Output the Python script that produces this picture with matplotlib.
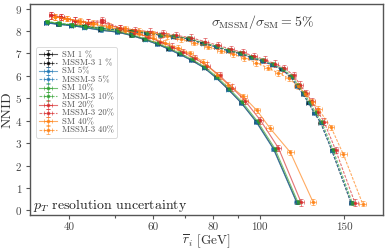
import matplotlib
matplotlib.use("Agg")
import matplotlib.pyplot as plt
import numpy as np
from matplotlib.ticker import FixedLocator, FixedFormatter, NullFormatter

plt.rcParams.update({
    "font.family": "serif",
    "font.serif": ["cmr10", "DejaVu Serif"],
    "mathtext.fontset": "cm",
    "axes.unicode_minus": False,
    "axes.formatter.use_mathtext": True,
})

# ---------------- data ----------------
labels = ["SM 1 %", "MSSM-3 1 %", "SM 5%", "MSSM-3 5%", "SM 10%", "MSSM-3 10%",
          "SM 20%", "MSSM-3 20%", "SM 40%", "MSSM-3 40%"]

x_sm1 = [35.8, 38.0, 40.5, 43.0, 46.5, 50.5, 54.0, 57.5, 61.0, 64.5, 68.0, 72.0, 76.5, 81.0, 86.0, 91.5, 98.5, 107.0, 119.5]
y_sm1 = [8.37, 8.30, 8.24, 8.16, 8.04, 7.95, 7.80, 7.62, 7.42, 7.20, 6.97, 6.70, 6.37, 5.93, 5.40, 4.80, 3.95, 2.74, 0.37]

x_sm5 = [35.8, 38.1, 40.5, 43.1, 46.6, 50.5, 54.1, 57.6, 61.1, 64.6, 68.1, 72.1, 76.6, 81.1, 86.1, 91.6, 98.4, 106.9, 119.4]
y_sm5 = [8.36, 8.29, 8.24, 8.15, 8.03, 7.95, 7.80, 7.61, 7.42, 7.19, 6.96, 6.69, 6.36, 5.92, 5.39, 4.79, 3.94, 2.73, 0.37]

x_sm10 = [36.0, 38.2, 40.7, 43.2, 46.7, 50.7, 54.2, 57.7, 61.3, 64.8, 68.3, 72.3, 76.8, 81.4, 86.4, 92.0, 99.0, 107.6, 120.2]
y_sm10 = [8.42, 8.33, 8.27, 8.19, 8.08, 7.99, 7.83, 7.65, 7.45, 7.23, 7.00, 6.73, 6.40, 5.96, 5.43, 4.83, 3.97, 2.76, 0.37]

x_sm20 = [36.8, 38.6, 41.2, 43.9, 47.0, 51.2, 54.8, 58.4, 62.0, 65.6, 69.2, 73.2, 77.8, 82.5, 87.6, 93.3, 100.4, 109.5, 122.0]
y_sm20 = [8.70, 8.62, 8.46, 8.37, 8.40, 8.10, 7.92, 7.74, 7.52, 7.30, 7.06, 6.78, 6.45, 6.02, 5.48, 4.88, 4.02, 2.78, 0.37]

x_sm40 = [37.5, 39.6, 42.2, 45.0, 48.5, 52.3, 56.0, 59.8, 63.6, 67.5, 71.5, 76.3, 81.7, 86.1, 92.5, 98.7, 105.0, 115.9, 129.3]
y_sm40 = [8.62, 8.55, 8.42, 8.30, 8.16, 8.02, 7.87, 7.68, 7.47, 7.25, 7.00, 6.62, 6.04, 5.60, 5.08, 4.46, 3.68, 2.59, 0.37]

x_m1 = [35.8, 38.0, 40.5, 43.0, 46.5, 50.5, 54.0, 58.0, 62.0, 66.0, 71.0, 76.0, 81.0, 86.0, 91.0, 96.0, 101.0, 106.0, 111.0, 116.0, 119.6, 123.0, 126.4, 130.0, 134.0, 141.4, 155.0]
y_m1 = [8.37, 8.32, 8.26, 8.20, 8.12, 8.05, 7.98, 7.90, 7.82, 7.75, 7.65, 7.45, 7.30, 7.12, 7.00, 6.82, 6.67, 6.50, 6.30, 5.97, 5.56, 5.20, 4.81, 4.35, 3.92, 2.68, 0.35]

x_m5 = [35.8, 38.0, 40.5, 43.1, 46.6, 50.5, 54.1, 58.1, 62.1, 66.1, 71.1, 76.1, 81.1, 86.1, 91.1, 96.1, 101.1, 106.1, 111.1, 116.1, 119.7, 123.1, 126.5, 130.1, 134.1, 141.5, 155.2]
y_m5 = [8.36, 8.31, 8.25, 8.19, 8.11, 8.04, 7.97, 7.89, 7.82, 7.74, 7.64, 7.44, 7.29, 7.11, 6.99, 6.81, 6.66, 6.49, 6.29, 5.96, 5.55, 5.19, 4.80, 4.34, 3.91, 2.67, 0.35]

x_m10 = [36.0, 38.2, 40.7, 43.2, 46.7, 50.7, 54.3, 58.3, 62.4, 66.4, 71.4, 76.4, 81.5, 86.5, 91.6, 96.6, 101.6, 106.7, 111.7, 116.8, 120.4, 123.8, 127.2, 130.8, 134.8, 142.3, 156.0]
y_m10 = [8.42, 8.34, 8.28, 8.22, 8.14, 8.07, 8.00, 7.92, 7.84, 7.77, 7.67, 7.47, 7.32, 7.14, 7.02, 6.84, 6.69, 6.52, 6.32, 5.99, 5.58, 5.22, 4.83, 4.37, 3.94, 2.70, 0.35]

x_m20 = [36.8, 38.6, 41.2, 43.9, 47.0, 51.2, 55.0, 59.0, 63.0, 67.0, 72.0, 77.0, 82.0, 87.2, 92.3, 97.4, 102.5, 107.6, 112.7, 117.8, 121.5, 125.0, 128.5, 132.2, 136.3, 144.0, 158.0]
y_m20 = [8.70, 8.62, 8.46, 8.37, 8.49, 8.12, 8.04, 7.97, 7.89, 7.80, 7.70, 7.52, 7.36, 7.18, 7.04, 6.88, 6.72, 6.54, 6.34, 6.02, 5.60, 5.24, 4.86, 4.40, 3.95, 2.70, 0.35]

x_m40 = [37.5, 39.6, 42.2, 45.0, 48.5, 52.3, 56.0, 60.0, 64.0, 68.5, 73.0, 78.0, 83.0, 88.0, 93.0, 98.5, 104.0, 109.5, 115.0, 120.0, 124.4, 128.5, 132.5, 141.0, 149.5, 164.0]
y_m40 = [8.62, 8.55, 8.45, 8.35, 8.22, 8.12, 8.02, 7.90, 7.78, 7.62, 7.48, 7.30, 7.12, 6.96, 6.80, 6.58, 6.36, 6.12, 5.90, 5.55, 5.20, 4.85, 4.53, 3.70, 2.50, 0.30]

yerr_vals = [0.06, 0.06, 0.07, 0.07, 0.09, 0.09, 0.15, 0.15, 0.12, 0.12]
xerr_rel = [0.010, 0.010, 0.010, 0.010, 0.011, 0.011, 0.013, 0.013, 0.016, 0.016]

xticks_major = [40, 60, 80, 100, 150]
xticks_minor = [50, 70, 90]
yticks = [0, 1, 2, 3, 4, 5, 6, 7, 8, 9]

series_x = [x_sm1, x_m1, x_sm5, x_m5, x_sm10, x_m10, x_sm20, x_m20, x_sm40, x_m40]
series_y = [y_sm1, y_m1, y_sm5, y_m5, y_sm10, y_m10, y_sm20, y_m20, y_sm40, y_m40]
colors = ["black", "black", "#1f77b4", "#1f77b4", "#2ca02c", "#2ca02c",
          "#d62728", "#d62728", "#ff7f0e", "#ff7f0e"]
styles = ["-", "--"] * 5

# ---------------- figure ----------------
fig = plt.figure(figsize=(3.89, 2.52), dpi=100)
ax = fig.add_axes([0.077, 0.147, 0.908, 0.837])

for xs, ys, c, ls, lab, ye, xr in zip(series_x, series_y, colors, styles, labels, yerr_vals, xerr_rel):
    xs = np.asarray(xs)
    ys = np.asarray(ys)
    eb = ax.errorbar(xs, ys, yerr=ye, xerr=xs * xr, color=c, ls=ls, lw=0.8,
                     marker="s", ms=1.5, capsize=1.3, elinewidth=0.6, capthick=0.6,
                     alpha=0.65, label=lab)
    if ls == "--":
        eb[0].set_dashes((2.5, 1.2))
    eb[-1][0].set_linestyle("-")
    eb[-1][1].set_linestyle("-")

ax.set_xscale("log")
ax.set_xlim(33.2, 181)
ax.set_ylim(-0.2, 9.2)
ax.xaxis.set_major_locator(FixedLocator(xticks_major))
ax.xaxis.set_major_formatter(FixedFormatter([str(v) for v in xticks_major]))
ax.xaxis.set_minor_locator(FixedLocator(xticks_minor))
ax.xaxis.set_minor_formatter(NullFormatter())
ax.set_yticks(yticks)

spine_col = "#555555"
for s in ax.spines.values():
    s.set_color(spine_col)
    s.set_linewidth(1.0)
ax.tick_params(axis="both", which="both", colors=spine_col, labelcolor="#444444",
               labelsize=8, length=3, width=0.8, direction="out", pad=2.5)
ax.tick_params(axis="x", which="minor", length=2)

ax.set_xlabel(r"$\overline{r}_i$ [GeV]", fontsize=9.5, color="#333333", labelpad=0)
ax.set_ylabel("NNID", fontsize=10, color="#333333", labelpad=1)

ax.text(0.805, 0.915, r"$\sigma_{\rm MSSM}/\sigma_{\rm SM} = 5\%$", transform=ax.transAxes,
        ha="right", va="center", fontsize=10, color="#333333")
ax.text(0.01, 0.045, r"$p_T$ resolution uncertainty", transform=ax.transAxes,
        ha="left", va="center", fontsize=10, color="#222222")

leg = ax.legend(loc="upper left", bbox_to_anchor=(0.005, 0.815), fontsize=6.3,
                handlelength=2.0, handletextpad=0.6, labelspacing=0.0,
                handleheight=0.5, borderpad=0.35, frameon=True, fancybox=True,
                framealpha=0.8)
leg.get_frame().set_edgecolor("#cccccc")
leg.get_frame().set_linewidth(0.6)
for t in leg.get_texts():
    t.set_color("#555555")

fig.savefig("out.png", dpi=100)
